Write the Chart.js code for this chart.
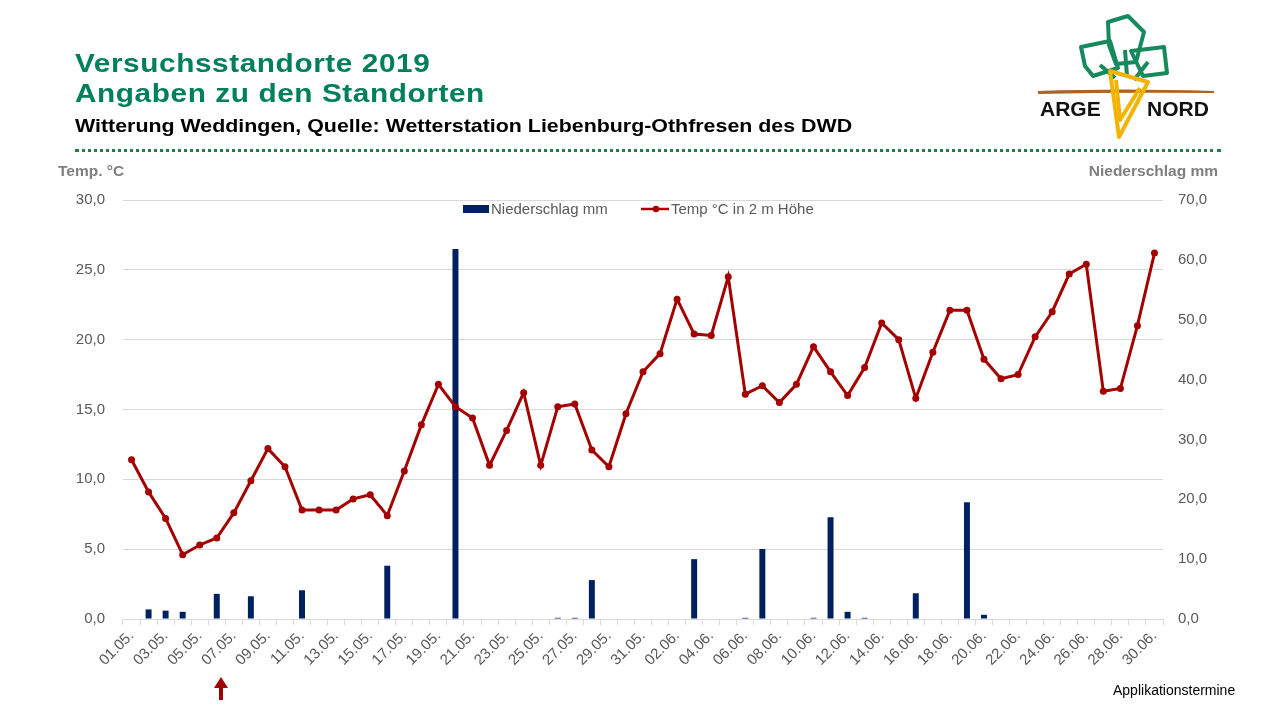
<!DOCTYPE html>
<html>
<head>
<meta charset="utf-8">
<script src="https://cdn.jsdelivr.net/npm/chart.js@4/dist/chart.umd.min.js"></script>
<style>
  html, body { margin:0; padding:0; background:#fff; }
  body { width:1280px; height:720px; position:relative; overflow:hidden; font-family:"Liberation Sans", Arial, sans-serif; }
  #c { position:absolute; left:0; top:0; }
  .t1 { position:absolute; left:75px; font-weight:bold; font-size:25px; letter-spacing:0.5px; color:#00805a; white-space:nowrap; line-height:1; transform:scaleX(1.19); transform-origin:0 0; }
  .sub { position:absolute; left:75px; top:116.5px; font-weight:bold; font-size:18.6px; color:#000; white-space:nowrap; line-height:1; transform:scaleX(1.15); transform-origin:0 0; }
  .dots { position:absolute; left:75px; top:149px; width:1146px; height:0; border-top:3px dotted #1e7e4e; }
  .axt { position:absolute; top:163px; font-weight:bold; font-size:15.5px; color:#7f7f7f; white-space:nowrap; line-height:1; }
  .leg { position:absolute; top:201px; font-size:15px; color:#595959; white-space:nowrap; line-height:1; }
  .app { position:absolute; left:1113px; top:683px; font-size:14px; color:#000; white-space:nowrap; line-height:1; }
</style>
</head>
<body>
<canvas id="c" width="1280" height="720"></canvas>

<div class="t1" style="top:51px">Versuchsstandorte 2019</div>
<div class="t1" style="top:80.5px">Angaben zu den Standorten</div>
<div class="sub">Witterung Weddingen, Quelle: Wetterstation Liebenburg-Othfresen des DWD</div>
<div class="dots"></div>

<div class="axt" style="left:58px">Temp. °C</div>
<div class="axt" style="right:62px">Niederschlag mm</div>

<div class="leg" style="left:463px"><span style="display:inline-block;width:26px;height:8px;background:#002060;vertical-align:1px;margin-right:2px"></span>Niederschlag mm</div>
<div class="leg" style="left:641px"><svg width="29" height="10" style="vertical-align:0px;margin-right:1px"><line x1="0" y1="5" x2="28" y2="5" stroke="#a50000" stroke-width="2.5"/><circle cx="15" cy="5" r="3.2" fill="#a50000"/></svg>Temp °C in 2 m Höhe</div>

<svg style="position:absolute;left:1030px;top:10px" width="190" height="135" viewBox="0 0 190 135">
  <path d="M8 81 Q90 78 184 81 L184 83 Q90 82 8 84 Z" fill="#a8652a"/>
  <g fill="none" stroke="#168a5c" stroke-width="4" stroke-linejoin="round">
    <polygon points="51,37 80,31 88,58 63,66 55,56"/>
    <polygon points="78,12 98,6 114,22 106,52 86,54 79,35"/>
    <polygon points="101,41 134,37 137,63 113,66"/>
    <polyline points="70,55 85,68"/>
    <polyline points="95,40 97,66"/>
    <polyline points="118,52 104,70"/>
  </g>
  <g fill="none" stroke="#f3b400" stroke-width="4" stroke-linejoin="round">
    <polygon points="80,61 118,72 89,127"/>
    <polyline points="86,70 90,110 110,78"/>
  </g>
  <text x="10" y="106" font-family="Liberation Sans, Arial, sans-serif" font-weight="bold" font-size="21" fill="#111">ARGE</text>
  <text x="117" y="106" font-family="Liberation Sans, Arial, sans-serif" font-weight="bold" font-size="21" fill="#111">NORD</text>
</svg>

<svg style="position:absolute;left:213px;top:677px" width="16" height="24">
  <polygon points="8,0 15,11 10,11 10,23 6,23 6,11 1,11" fill="#a50000"/>
</svg>
<div class="app">Applikationstermine</div>

<script>
const dates = [
 "01.05.","02.05.","03.05.","04.05.","05.05.","06.05.","07.05.","08.05.","09.05.","10.05.",
 "11.05.","12.05.","13.05.","14.05.","15.05.","16.05.","17.05.","18.05.","19.05.","20.05.",
 "21.05.","22.05.","23.05.","24.05.","25.05.","26.05.","27.05.","28.05.","29.05.","30.05.","31.05.",
 "01.06.","02.06.","03.06.","04.06.","05.06.","06.06.","07.06.","08.06.","09.06.","10.06.",
 "11.06.","12.06.","13.06.","14.06.","15.06.","16.06.","17.06.","18.06.","19.06.","20.06.",
 "21.06.","22.06.","23.06.","24.06.","25.06.","26.06.","27.06.","28.06.","29.06.","30.06."
];
const niederschlag = [
 0,1.6,1.4,1.2,0,4.2,0,3.8,0,0,
 4.8,0,0,0,0,8.9,0,0,0,61.8,
 0,0,0,0,0,0.2,0.2,6.5,0,0,0,
 0,0,10.0,0,0,0.2,11.7,0,0,0.2,
 17.0,1.2,0.2,0,0,4.3,0,0,19.5,0.7,
 0,0,0,0,0,0,0,0,0,0
];
const temperatur = [
 11.4,9.1,7.2,4.6,5.3,5.8,7.6,9.9,12.2,10.9,
 7.8,7.8,7.8,8.6,8.9,7.4,10.6,13.9,16.8,15.2,
 14.4,11.0,13.5,16.2,11.0,15.2,15.4,12.1,10.9,14.7,17.7,
 19.0,22.9,20.4,20.3,24.5,16.1,16.7,15.5,16.8,19.5,
 17.7,16.0,18.0,21.2,20.0,15.8,19.1,22.1,22.1,18.6,
 17.2,17.5,20.2,22.0,24.7,25.4,16.3,16.5,21.0,26.2
];
const tempTicks = {min:0, max:30, step:5};
const rainTicks = {min:0, max:70, step:10};

const fmt = v => Number(v).toFixed(1).replace('.', ',');
const tickFont = {family:"Liberation Sans, Arial, sans-serif", size:15};

new Chart(document.getElementById('c'), {
  data: {
    labels: dates,
    datasets: [
      { type:'line', label:'Temp °C in 2 m Höhe', data:temperatur, yAxisID:'y',
        borderColor:'#a50000', backgroundColor:'#a50000', borderWidth:3,
        pointRadius:3.5, pointHoverRadius:3.5, pointBackgroundColor:'#a50000', pointBorderWidth:0,
        tension:0, order:0 },
      { type:'bar', label:'Niederschlag mm', data:niederschlag, yAxisID:'y1',
        backgroundColor:'#002060', categoryPercentage:0.35, barPercentage:1, order:1 }
    ]
  },
  options: {
    responsive:false, animation:false, devicePixelRatio:1,
    layout:{ padding:{ top:200, left:0, right:0, bottom:0 } },
    plugins:{ legend:{display:false}, title:{display:false}, tooltip:{enabled:false} },
    scales:{
      x:{ type:'category', offset:true,
        grid:{ offset:true, drawOnChartArea:false, drawTicks:true, tickLength:6, color:'#d9d9d9' },
        border:{ color:'#d9d9d9' },
        ticks:{ autoSkip:false, minRotation:45, maxRotation:45, padding:2, color:'#595959', font:tickFont,
          callback:(v,i)=> i%2===0 ? dates[i] : '' },
        afterFit:s=>{ s.height = 101; } },
      y:{ position:'left', min:tempTicks.min, max:tempTicks.max,
        grid:{ color:'#d9d9d9', drawTicks:false }, border:{ display:false },
        ticks:{ stepSize:tempTicks.step, padding:18, color:'#595959', font:tickFont, callback:v=>fmt(v) },
        afterFit:s=>{ s.width = 123; } },
      y1:{ position:'right', min:rainTicks.min, max:rainTicks.max,
        grid:{ drawOnChartArea:false, drawTicks:false }, border:{ display:false },
        ticks:{ stepSize:rainTicks.step, padding:15, color:'#595959', font:tickFont, callback:v=>fmt(v) },
        afterFit:s=>{ s.width = 117; } }
    }
  }
});
</script>
</body>
</html>
